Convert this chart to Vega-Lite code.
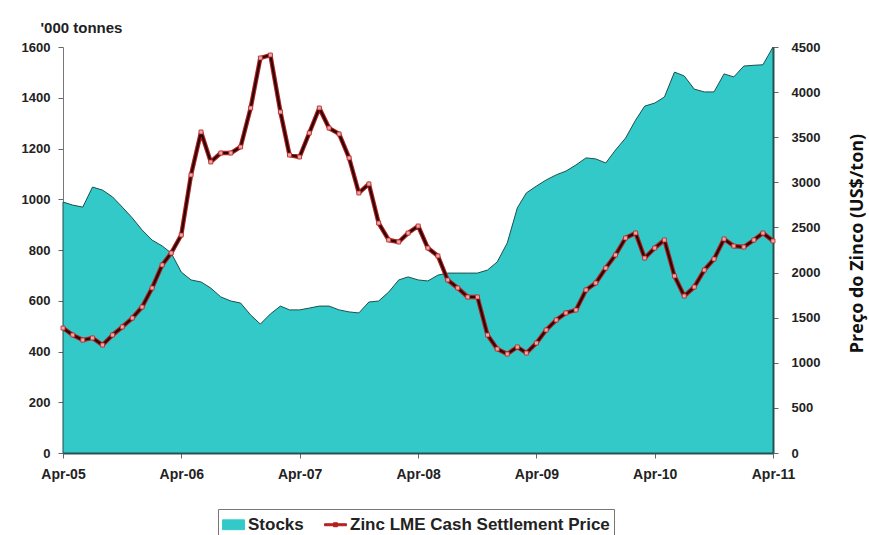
{
  "$schema": "https://vega.github.io/schema/vega-lite/v6.json",
  "autosize": {"type": "none"},
  "width": 710,
  "height": 406,
  "padding": {"left": 63, "top": 47, "right": 96, "bottom": 82},
  "background": "white",
  "config": {
    "view": {"stroke": null},
    "font": "Liberation Sans",
    "axis": {"grid": false, "format": "d", "labelFont": "Liberation Sans", "labelFontWeight": "bold", "labelFontSize": 13, "labelColor": "#222", "titleColor": "#222", "tickColor": "#666", "domainColor": "#666"},
    "legend": {
      "orient": "none",
      "legendX": 155,
      "legendY": 462,
      "direction": "horizontal",
      "strokeColor": "#777",
      "fillColor": "white",
      "padding": 4,
      "labelFont": "Liberation Sans",
      "labelFontSize": 17,
      "labelFontWeight": "bold",
      "labelColor": "#222",
      "labelLimit": 400,
      "labelOffset": 3,
      "columnPadding": 18,
      "symbolSize": 480
    }
  },
  "data": {
    "values": [
      {"date": "2005-04-01", "stocks": 989, "price": 1385},
      {"date": "2005-05-01", "stocks": 977, "price": 1308},
      {"date": "2005-06-01", "stocks": 969, "price": 1252},
      {"date": "2005-07-01", "stocks": 1048, "price": 1275},
      {"date": "2005-08-01", "stocks": 1036, "price": 1197},
      {"date": "2005-09-01", "stocks": 1009, "price": 1308},
      {"date": "2005-10-01", "stocks": 969, "price": 1397},
      {"date": "2005-11-01", "stocks": 926, "price": 1496},
      {"date": "2005-12-01", "stocks": 879, "price": 1618},
      {"date": "2006-01-01", "stocks": 839, "price": 1829},
      {"date": "2006-02-01", "stocks": 816, "price": 2084},
      {"date": "2006-03-01", "stocks": 788, "price": 2217},
      {"date": "2006-04-01", "stocks": 713, "price": 2416},
      {"date": "2006-05-01", "stocks": 682, "price": 3081},
      {"date": "2006-06-01", "stocks": 674, "price": 3558},
      {"date": "2006-07-01", "stocks": 650, "price": 3226},
      {"date": "2006-08-01", "stocks": 615, "price": 3325},
      {"date": "2006-09-01", "stocks": 599, "price": 3325},
      {"date": "2006-10-01", "stocks": 591, "price": 3392},
      {"date": "2006-11-01", "stocks": 544, "price": 3824},
      {"date": "2006-12-01", "stocks": 508, "price": 4378},
      {"date": "2007-01-01", "stocks": 548, "price": 4411},
      {"date": "2007-02-01", "stocks": 579, "price": 3780},
      {"date": "2007-03-01", "stocks": 564, "price": 3303},
      {"date": "2007-04-01", "stocks": 564, "price": 3281},
      {"date": "2007-05-01", "stocks": 571, "price": 3547},
      {"date": "2007-06-01", "stocks": 579, "price": 3824},
      {"date": "2007-07-01", "stocks": 579, "price": 3602},
      {"date": "2007-08-01", "stocks": 564, "price": 3536},
      {"date": "2007-09-01", "stocks": 556, "price": 3270},
      {"date": "2007-10-01", "stocks": 552, "price": 2882},
      {"date": "2007-11-01", "stocks": 595, "price": 2982},
      {"date": "2007-12-01", "stocks": 599, "price": 2549},
      {"date": "2008-01-01", "stocks": 634, "price": 2361},
      {"date": "2008-02-01", "stocks": 682, "price": 2339},
      {"date": "2008-03-01", "stocks": 694, "price": 2438},
      {"date": "2008-04-01", "stocks": 682, "price": 2516},
      {"date": "2008-05-01", "stocks": 678, "price": 2272},
      {"date": "2008-06-01", "stocks": 701, "price": 2184},
      {"date": "2008-07-01", "stocks": 709, "price": 1918},
      {"date": "2008-08-01", "stocks": 709, "price": 1829},
      {"date": "2008-09-01", "stocks": 709, "price": 1729},
      {"date": "2008-10-01", "stocks": 709, "price": 1729},
      {"date": "2008-11-01", "stocks": 721, "price": 1308},
      {"date": "2008-12-01", "stocks": 753, "price": 1153},
      {"date": "2009-01-01", "stocks": 828, "price": 1097},
      {"date": "2009-02-01", "stocks": 966, "price": 1175},
      {"date": "2009-03-01", "stocks": 1025, "price": 1108},
      {"date": "2009-04-01", "stocks": 1052, "price": 1219},
      {"date": "2009-05-01", "stocks": 1076, "price": 1363},
      {"date": "2009-06-01", "stocks": 1096, "price": 1474},
      {"date": "2009-07-01", "stocks": 1111, "price": 1552},
      {"date": "2009-08-01", "stocks": 1135, "price": 1585},
      {"date": "2009-09-01", "stocks": 1163, "price": 1807},
      {"date": "2009-10-01", "stocks": 1159, "price": 1884},
      {"date": "2009-11-01", "stocks": 1143, "price": 2050},
      {"date": "2009-12-01", "stocks": 1194, "price": 2195},
      {"date": "2010-01-01", "stocks": 1241, "price": 2383},
      {"date": "2010-02-01", "stocks": 1312, "price": 2438},
      {"date": "2010-03-01", "stocks": 1367, "price": 2161},
      {"date": "2010-04-01", "stocks": 1379, "price": 2272},
      {"date": "2010-05-01", "stocks": 1403, "price": 2361},
      {"date": "2010-06-01", "stocks": 1501, "price": 1962},
      {"date": "2010-07-01", "stocks": 1486, "price": 1740},
      {"date": "2010-08-01", "stocks": 1434, "price": 1840},
      {"date": "2010-09-01", "stocks": 1423, "price": 2028},
      {"date": "2010-10-01", "stocks": 1423, "price": 2150},
      {"date": "2010-11-01", "stocks": 1494, "price": 2372},
      {"date": "2010-12-01", "stocks": 1482, "price": 2294},
      {"date": "2011-01-01", "stocks": 1525, "price": 2283},
      {"date": "2011-02-01", "stocks": 1528, "price": 2361},
      {"date": "2011-03-01", "stocks": 1530, "price": 2438},
      {"date": "2011-04-01", "stocks": 1600, "price": 2350}
    ]
  },
  "encoding": {
    "x": {
      "field": "date",
      "type": "temporal",
      "scale": {
        "type": "utc",
        "domain": [
          {"year": 2005, "month": 4, "date": 1, "utc": true},
          {"year": 2011, "month": 4, "date": 1, "utc": true}
        ]
      },
      "axis": {
        "title": null,
        "values": [
          {"year": 2005, "month": 4, "date": 1, "utc": true},
          {"year": 2006, "month": 4, "date": 1, "utc": true},
          {"year": 2007, "month": 4, "date": 1, "utc": true},
          {"year": 2008, "month": 4, "date": 1, "utc": true},
          {"year": 2009, "month": 4, "date": 1, "utc": true},
          {"year": 2010, "month": 4, "date": 1, "utc": true},
          {"year": 2011, "month": 4, "date": 1, "utc": true}
        ],
        "labelExpr": "utcFormat(datum.value, '%b-%y')",
        "labelFlush": false,
        "labelOverlap": false,
        "labelFontSize": 14,
        "domainColor": "#2f5555",
        "domainWidth": 2,
        "tickSize": 5,
        "labelPadding": 9
      }
    }
  },
  "layer": [
    {
      "mark": {"type": "area", "fill": "#33c9c9", "stroke": "#1d4f4f", "strokeWidth": 1, "opacity": 1, "fillOpacity": 1},
      "encoding": {
        "y": {
          "field": "stocks",
          "type": "quantitative",
          "scale": {"domain": [0, 1600], "nice": false},
          "axis": {
            "values": [0, 200, 400, 600, 800, 1000, 1200, 1400, 1600],
            "title": "'000 tonnes",
            "titleAngle": 0,
            "titleAlign": "left",
            "titleBaseline": "alphabetic",
            "titleX": -23,
            "titleY": -15,
            "titleFont": "Liberation Sans",
            "titleFontSize": 15,
            "titleFontWeight": "bold",
            "tickSize": 5,
            "labelPadding": 8,
            "domainColor": "#777"
          }
        },
        "color": {
          "datum": "Stocks",
          "type": "nominal",
          "scale": {"domain": ["Stocks", "Zinc LME Cash Settlement Price"], "range": ["#33c9c9", "#b3201f"]},
          "legend": {
            "title": null,
            "symbolType": "square",
            "encode": {
              "symbols": {
                "update": {
                  "shape": {"signal": "datum.value === 'Stocks' ? 'M-1,-0.45H1V0.45H-1Z' : 'M-1,-0.09H1V0.09H-1Z M-0.18,-0.18H0.18V0.18H-0.18Z'"},
                  "fill": {"signal": "datum.value === 'Stocks' ? '#33c9c9' : '#a81c1c'"},
                  "stroke": {"signal": "datum.value === 'Stocks' ? '#1d4f4f' : '#a81c1c'"},
                  "strokeWidth": {"value": 1},
                  "opacity": {"value": 1}
                }
              }
            }
          }
        }
      }
    },
    {
      "encoding": {
        "y": {
          "field": "price",
          "type": "quantitative",
          "scale": {"domain": [0, 4500], "nice": false},
          "axis": {
            "orient": "right",
            "values": [0, 500, 1000, 1500, 2000, 2500, 3000, 3500, 4000, 4500],
            "title": "Preço do Zinco (US$/ton)",
            "titleAngle": 270,
            "titleAlign": "center",
            "titleBaseline": "middle",
            "titleX": 84,
            "titleY": 196,
            "titleFont": "Open Sans",
            "titleFontSize": 18,
            "titleFontWeight": "bold",
            "titleColor": "#111",
            "tickSize": 5,
            "labelPadding": 13,
            "domainColor": "#2f5555",
            "domainWidth": 2
          }
        }
      },
      "layer": [
        {
          "mark": {"type": "line", "strokeWidth": 4.4, "strokeJoin": "round"},
          "encoding": {
            "color": {
              "datum": "Zinc LME Cash Settlement Price",
              "type": "nominal",
              "legend": {
                "title": null,
                "symbolType": "square",
                "encode": {
                  "symbols": {
                    "update": {
                      "shape": {"signal": "datum.value === 'Stocks' ? 'M-1,-0.45H1V0.45H-1Z' : 'M-1,-0.09H1V0.09H-1Z M-0.18,-0.18H0.18V0.18H-0.18Z'"},
                      "fill": {"signal": "datum.value === 'Stocks' ? '#33c9c9' : '#a81c1c'"},
                      "stroke": {"signal": "datum.value === 'Stocks' ? '#1d4f4f' : '#a81c1c'"},
                      "strokeWidth": {"value": 1},
                      "opacity": {"value": 1}
                    }
                  }
                }
              }
            }
          }
        },
        {
          "mark": {"type": "line", "color": "#2a0505", "strokeWidth": 2.2, "strokeJoin": "round"},
          "encoding": {}
        },
        {
          "mark": {"type": "point", "shape": "square", "size": 16, "filled": true, "fill": "#eaa8a8", "stroke": "#b52a2a", "strokeWidth": 0.8, "opacity": 1},
          "encoding": {}
        }
      ]
    }
  ],
  "resolve": {"scale": {"y": "independent"}}
}
